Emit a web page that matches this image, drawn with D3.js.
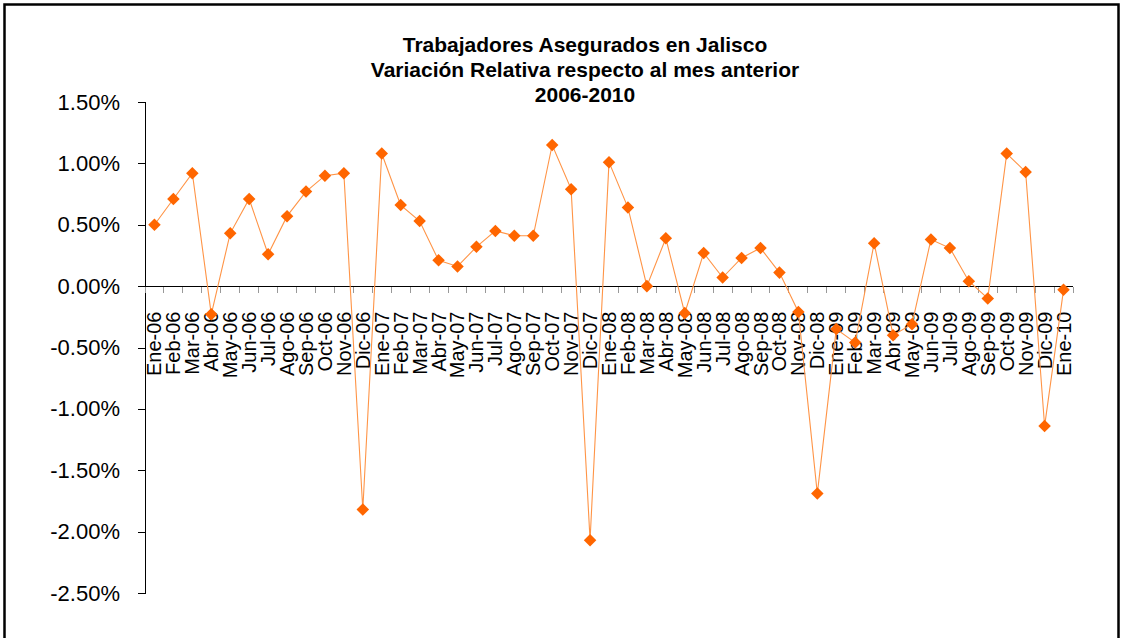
<!DOCTYPE html>
<html>
<head>
<meta charset="utf-8">
<script src="https://cdn.jsdelivr.net/npm/d3@7"></script>
<style>
  body { margin: 0; background: #fff; }
  svg { display: block; font-family: Arial, "Liberation Sans", sans-serif; }
</style>
</head>
<body>
<svg id="chart" width="1122" height="638"></svg>
<script>
// datos: variación mensual (%)
var months = [
  "Ene-06","Feb-06","Mar-06","Abr-06","May-06","Jun-06","Jul-06","Ago-06","Sep-06","Oct-06","Nov-06","Dic-06",
  "Ene-07","Feb-07","Mar-07","Abr-07","May-07","Jun-07","Jul-07","Ago-07","Sep-07","Oct-07","Nov-07","Dic-07",
  "Ene-08","Feb-08","Mar-08","Abr-08","May-08","Jun-08","Jul-08","Ago-08","Sep-08","Oct-08","Nov-08","Dic-08",
  "Ene-09","Feb-09","Mar-09","Abr-09","May-09","Jun-09","Jul-09","Ago-09","Sep-09","Oct-09","Nov-09","Dic-09",
  "Ene-10"
];
var variation = [
  0.50, 0.71, 0.92, -0.23, 0.43, 0.71, 0.26, 0.57, 0.77, 0.90, 0.92, -1.82,
  1.08, 0.66, 0.53, 0.21, 0.16, 0.32, 0.45, 0.41, 0.41, 1.15, 0.79, -2.07,
  1.01, 0.64, 0.00, 0.39, -0.22, 0.27, 0.07, 0.23, 0.31, 0.11, -0.21, -1.69,
  -0.35, -0.46, 0.35, -0.40, -0.31, 0.38, 0.31, 0.04, -0.10, 1.08, 0.93, -1.14,
  -0.03
];
var yTicks = [1.5, 1.0, 0.5, 0.0, -0.5, -1.0, -1.5, -2.0, -2.5];
var titleLines = [
  "Trabajadores Asegurados en Jalisco",
  "Variación Relativa respecto al mes anterior",
  "2006-2010"
];

var svg = d3.select("#chart");

// marco exterior
svg.append("rect")
  .attr("x", 4.5).attr("y", 4.5)
  .attr("width", 1114).attr("height", 700)
  .attr("fill", "none").attr("stroke", "#000").attr("stroke-width", 2.5);

// escalas
var x = d3.scaleBand().domain(months).range([145, 1073]);
var y = d3.scaleLinear().domain([-2.5, 1.5]).range([593, 102]);

// título
svg.append("g").selectAll("text")
  .data(titleLines)
  .enter().append("text")
  .attr("x", 585)
  .attr("y", (d, i) => 52 + i * 25)
  .attr("text-anchor", "middle")
  .style("font-size", "21px")
  .style("font-weight", "bold")
  .text(d => d);

// eje y
var yAxis = svg.append("g")
  .attr("transform", "translate(145,0)")
  .call(d3.axisLeft(y).tickValues(yTicks).tickSize(7).tickPadding(18)
    .tickFormat(d => d.toFixed(2) + "%"));
yAxis.selectAll("line, path").attr("stroke", "#000").attr("shape-rendering", "crispEdges");
yAxis.selectAll("text").style("font-size", "22px").attr("fill", "#000");

// eje x en 0%
var y0 = Math.round(y(0)) + 0.5;
svg.append("line")
  .attr("x1", 145).attr("x2", 1073)
  .attr("y1", y0).attr("y2", y0)
  .attr("stroke", "#000").attr("stroke-width", 1.2)
  .attr("shape-rendering", "crispEdges");

// marcas del eje x en los bordes de categoría
var edges = months.map(m => x(m)).concat([x.range()[1]]);
svg.append("g").selectAll("line")
  .data(edges)
  .enter().append("line")
  .attr("x1", d => d).attr("x2", d => d)
  .attr("y1", y0).attr("y2", y0 + 6)
  .attr("stroke", "#999")
  .attr("shape-rendering", "crispEdges");

// etiquetas del eje x
var xAxis = svg.append("g")
  .attr("transform", `translate(0,${y0})`)
  .call(d3.axisBottom(x).tickSize(0));
xAxis.select(".domain").remove();
xAxis.selectAll("text")
  .style("font-size", "20px")
  .attr("fill", "#000")
  .attr("text-anchor", "end")
  .attr("transform", "rotate(-90)")
  .attr("x", -25)
  .attr("y", 0)
  .attr("dy", "0.35em");

// serie
var cx = (d, i) => x(months[i]) + x.bandwidth() / 2;
var line = d3.line().x(cx).y(d => y(d));

svg.append("path")
  .datum(variation)
  .attr("fill", "none")
  .attr("stroke", "#ff9446")
  .attr("stroke-width", 1.1)
  .attr("d", line);

svg.append("g").selectAll("path")
  .data(variation)
  .enter().append("path")
  .attr("d", d3.symbol().type(d3.symbolDiamond2).size(100))
  .attr("transform", (d, i) => `translate(${cx(d, i)},${y(d)})`)
  .attr("fill", "#ff6600");
</script>
</body>
</html>
